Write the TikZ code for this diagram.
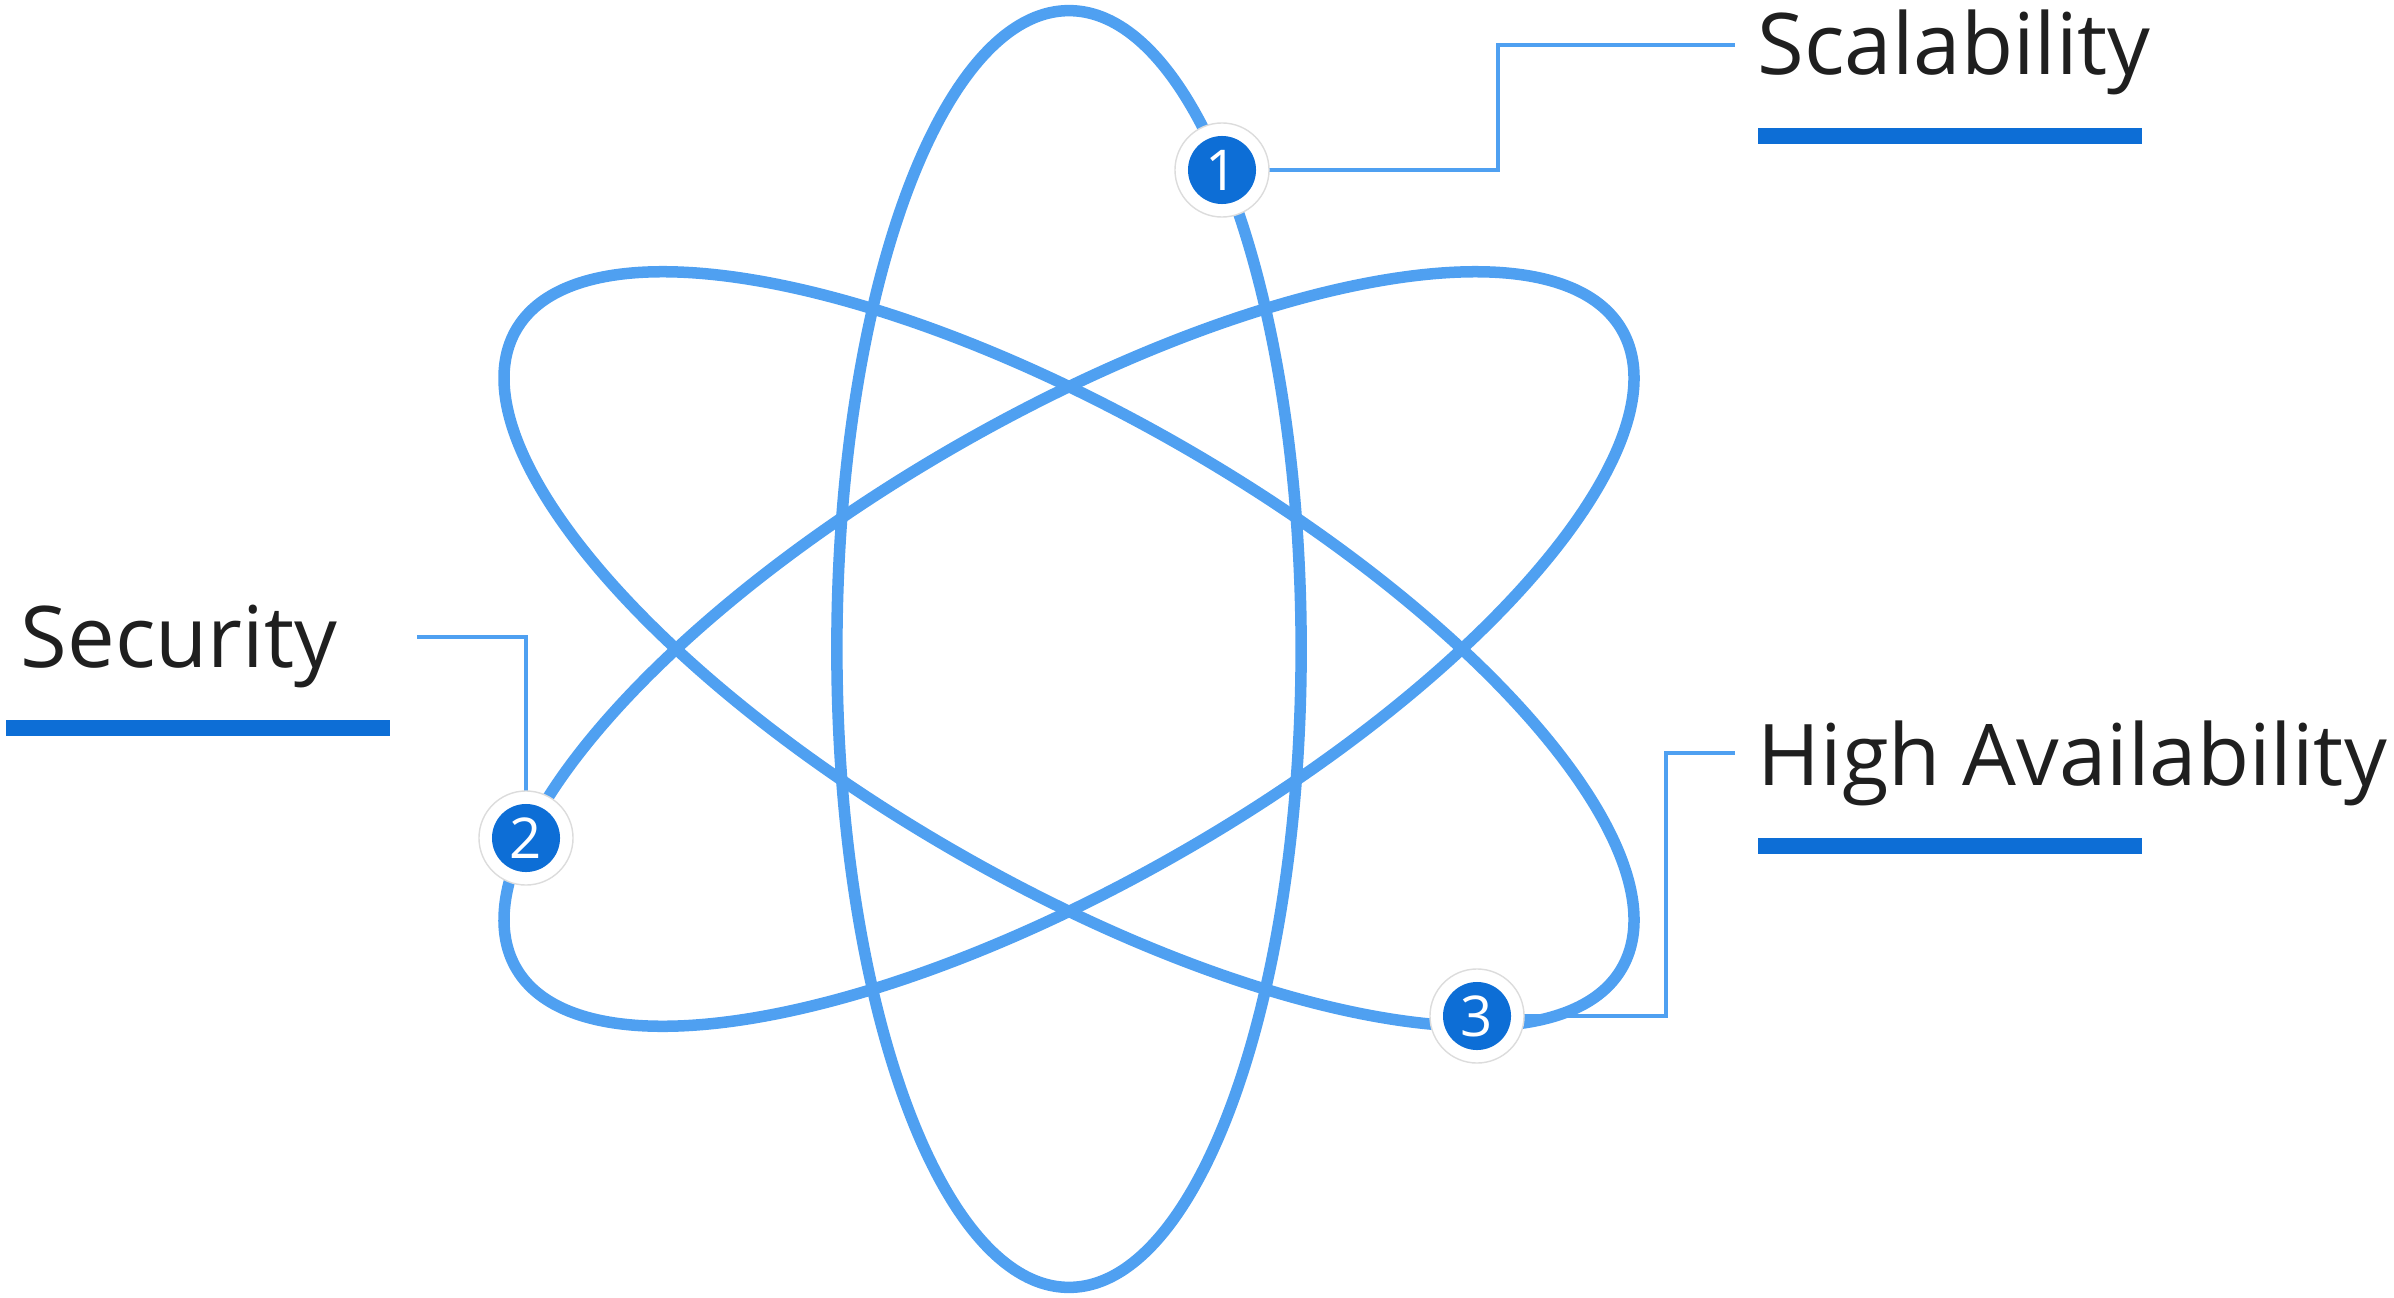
\documentclass[tikz,border=0pt]{standalone}
\usepackage{fontspec}
\setmainfont{Open Sans}
\usetikzlibrary{positioning}
\definecolor{orbit}{HTML}{4FA0F1}
\definecolor{deep}{HTML}{0D6ED6}
\definecolor{ink}{HTML}{1F1F1F}
\definecolor{rim}{HTML}{DCDCDC}
\tikzset{
  orb/.style={draw=orbit, line width=0.115cm},
  ring/.style={circle, draw=rim, line width=0.4pt, fill=white, minimum size=0.94cm, inner sep=0pt},
  num/.style={circle, fill=deep, text=white, minimum size=0.68cm, inner sep=0pt, font=\fontsize{16}{16}\selectfont},
  lbl/.style={font=\fontsize{24.2}{26}\selectfont, text=ink, inner sep=0pt, anchor=base west},
  bar/.style={fill=deep, inner sep=0pt, minimum width=3.84cm, minimum height=0.16cm},
  ld/.style={draw=orbit, line width=0.035cm},
}

\begin{document}
\begin{tikzpicture}[x=0.01cm, y=-0.01cm]
\useasboundingbox (0,0) rectangle (2394,1297);
\coordinate (c) at (1069,649);
\coordinate (p1) at (1222,170);
\coordinate (p2) at (526,838);
\coordinate (p3) at (1477,1016);
% labels and bars
\node[lbl] (sc) at (1757,75) {Scalability};
\node[lbl] (se) at (20,667) {Security};
\node[lbl] (ha) at (1757,785) {High Availability};
\node[bar, below right=0.52cm and 0cm of sc.base west] (b1) {};
\node[bar, below right=0.52cm and -0.15cm of se.base west] (b2) {};
\node[bar, below right=0.52cm and 0cm of ha.base west] (b3) {};
% leaders
\coordinate (k1) at (1498,45);
\coordinate (e1) at (1735,45);
\coordinate (e2) at (417,637);
\coordinate (k3) at (1666,753);
\coordinate (e3) at (1735,753);
\draw[ld] (p1) -| (k1) -- (e1);
\draw[ld] (e2) -| (p2);
\draw[ld] (p3) -| (k3) -- (e3);
% orbits
\draw[orb] (c) ellipse [x radius=2.32cm, y radius=6.38cm];
\draw[orb, rotate around={60:(c)}] (c) ellipse [x radius=2.32cm, y radius=6.38cm];
\draw[orb, rotate around={-60:(c)}] (c) ellipse [x radius=2.32cm, y radius=6.38cm];
% badges
\foreach \i in {1,2,3} {
  \node[ring] (r\i) at (p\i) {};
  \node[num] (n\i) at (p\i) {\i};
}
\end{tikzpicture}
\end{document}
